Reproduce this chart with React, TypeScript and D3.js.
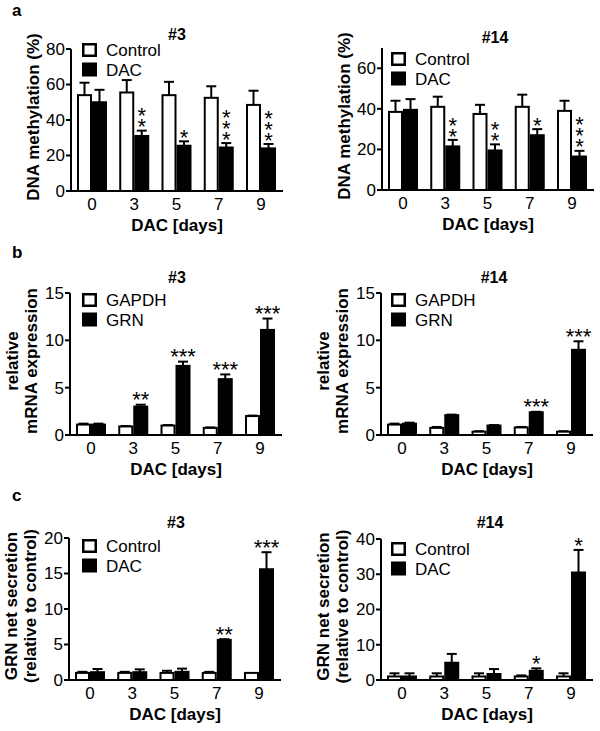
import React from 'react';
import * as d3 from 'd3';

const FONT = "'Liberation Sans', Arial, sans-serif";

const days = ['0', '3', '5', '7', '9'];

// a: DNA methylation
const methCtrl3 = [54, 55.5, 54, 52.5, 48.5];
const methCtrl3Err = [7, 7, 7.5, 6.5, 8];
const methDac3 = [50, 31, 25.5, 24.5, 24];
const methDac3Err = [7, 3, 2.5, 2.5, 2.5];
const methSig3 = ['', '**', '*', '***', '***'];

const methCtrl14 = [38.5, 41, 37.5, 41, 39];
const methCtrl14Err = [5.5, 5, 4.5, 6, 5];
const methDac14 = [39.5, 21.5, 19.5, 27, 16.5];
const methDac14Err = [5.3, 3.2, 3, 3, 2.8];
const methSig14 = ['', '**', '**', '*', '***'];

// b: mRNA expression
const gapdh3 = [1.1, 0.9, 1.0, 0.75, 2.0];
const gapdh3Err = [0.1, 0.05, 0.05, 0.05, 0.05];
const grn3 = [1.1, 3.0, 7.3, 5.9, 11.1];
const grn3Err = [0.1, 0.2, 0.45, 0.5, 1.2];
const mrnaSig3 = ['', '**', '***', '***', '***'];

const gapdh14 = [1.1, 0.75, 0.35, 0.8, 0.35];
const gapdh14Err = [0.1, 0.1, 0.05, 0.05, 0.05];
const grn14 = [1.2, 2.1, 1.0, 2.4, 9.0];
const grn14Err = [0.1, 0.05, 0.05, 0.05, 0.9];
const mrnaSig14 = ['', '', '', '***', '***'];

// c: GRN secretion
const secCtrl3 = [1, 1, 1, 1, 1];
const secCtrl3Err = [0.15, 0.15, 0.3, 0.15, 0];
const secDac3 = [1.1, 1.1, 1.15, 5.65, 15.6];
const secDac3Err = [0.45, 0.4, 0.45, 0.1, 2.4];
const secSig3 = ['', '', '', '**', '***'];

const secCtrl14 = [1, 1, 1, 1, 1];
const secCtrl14Err = [0.9, 0.9, 0.9, 0.3, 0.9];
const secDac14 = [1, 4.9, 1.7, 2.6, 30.5];
const secDac14Err = [0.9, 2.5, 1.4, 0.7, 6.4];
const secSig14 = ['', '', '', '*', '*'];

interface PanelProps {
  axisX: number;
  y0: number;
  yTop: number;
  yMax: number;
  ticks: number[];
  title: string;
  titleX: number;
  titleY: number;
  legend: [string, string];
  legendX: number;
  legendY: number;
  ylabel: string[];
  a: number[];
  aErr: number[];
  b: number[];
  bErr: number[];
  sig: string[];
  stacked: boolean;
}

const STAR = 22;

const Panel: React.FC<PanelProps> = (p) => {
  const y = d3.scaleLinear().domain([0, p.yMax]).range([p.y0, p.yTop]);
  const x = d3.scalePoint<string>().domain(days).range([p.axisX + 21, p.axisX + 190]);
  const barW = 15;
  const midY = (p.y0 + p.yTop) / 2 - 3;

  const bar = (v: number, e: number, left: number, fill: string, key: string) => {
    const top = y(v);
    const cx = left + barW / 2;
    return (
      <g key={key}>
        {e > 0 && (
          <g stroke="#000" strokeWidth={2}>
            <line x1={cx} x2={cx} y1={top} y2={y(v + e)} />
            <line x1={cx - 5} x2={cx + 5} y1={y(v + e)} y2={y(v + e)} />
          </g>
        )}
        <rect x={left + 1} y={top} width={barW - 2} height={Math.max(0, p.y0 - top)} fill={fill} stroke="#000" strokeWidth={2} />
      </g>
    );
  };

  return (
    <g fontFamily={FONT}>
      {days.map((d, i) => {
        const c = x(d)!;
        return (
          <g key={d}>
            {bar(p.a[i], p.aErr[i], c - barW, '#fff', 'a')}
            {bar(p.b[i], p.bErr[i], c, '#000', 'b')}
          </g>
        );
      })}
      {/* significance stars */}
      {days.map((d, i) => {
        const s = p.sig[i];
        if (!s) return null;
        const cx = x(d)! + barW / 2;
        const errTop = y(p.b[i] + p.bErr[i]);
        if (p.stacked) {
          const n = s.length;
          return (
            <text key={'s' + d} x={cx} textAnchor="middle" fontSize={STAR}>
              {s.split('').map((_, k) => (
                <tspan key={k} x={cx} y={errTop - 9 - (n - 1 - k) * 11 + STAR * 0.575}>*</tspan>
              ))}
            </text>
          );
        }
        const cy = errTop - 10;
        return (
          <text key={'s' + d} x={cx} y={cy + STAR * 0.575} textAnchor="middle" fontSize={STAR}>{s}</text>
        );
      })}
      {/* axes */}
      <g stroke="#000" strokeWidth={2}>
        <line x1={p.axisX} x2={p.axisX} y1={p.yTop} y2={p.y0 + 1} />
        <line x1={p.axisX - 1} x2={p.axisX + 212} y1={p.y0} y2={p.y0} />
        {p.ticks.map((t) => (
          <line key={t} x1={p.axisX - 5} x2={p.axisX} y1={y(t)} y2={y(t)} />
        ))}
      </g>
      {p.ticks.map((t) => (
        <text key={t} x={p.axisX - 6} y={y(t)} dy="0.35em" textAnchor="end" fontSize={17}>{t}</text>
      ))}
      {days.map((d) => (
        <text key={d} x={x(d)} y={p.y0 + 19} textAnchor="middle" fontSize={17}>{d}</text>
      ))}
      <text x={p.axisX + 106} y={p.y0 + 40} textAnchor="middle" fontSize={17} fontWeight="bold">DAC [days]</text>
      {p.ylabel.map((l, k) => {
        const off = p.ylabel.length === 1 ? -32 : k === 0 ? -52 : -33;
        return (
          <text key={k} transform={`translate(${p.axisX + off},${midY}) rotate(-90)`} textAnchor="middle" fontSize={17} fontWeight="bold">{l}</text>
        );
      })}
      <text x={p.titleX} y={p.titleY} textAnchor="middle" fontSize={16} fontWeight="bold">{p.title}</text>
      {/* legend */}
      {p.legend.map((l, k) => (
        <g key={l}>
          <rect x={p.legendX + 1.25} y={p.legendY + k * 19.5 + 1.25} width={12.5} height={11.5} fill={k === 0 ? '#fff' : '#000'} stroke="#000" strokeWidth={2.5} />
          <text x={p.legendX + 24} y={p.legendY + k * 19.5 + 13} fontSize={17}>{l}</text>
        </g>
      ))}
    </g>
  );
};

export default function App() {
  return (
    <svg width={600} height={731} style={{ position: 'absolute', left: 0, top: 0, background: '#fff' }}>
      <rect width={600} height={731} fill="#fff" />
      <g fontFamily={FONT} fontWeight="bold" fontSize={17}>
        <text x={12} y={16}>a</text>
        <text x={12} y={258}>b</text>
        <text x={12} y={501}>c</text>
      </g>
      <Panel axisX={71} y0={191} yTop={49} yMax={80} ticks={[0, 20, 40, 60, 80]} title="#3" titleX={177} titleY={40}
        legend={['Control', 'DAC']} legendX={82} legendY={43} ylabel={['DNA methylation (%)']}
        a={methCtrl3} aErr={methCtrl3Err} b={methDac3} bErr={methDac3Err} sig={methSig3} stacked />
      <Panel axisX={382} y0={190} yTop={48} yMax={70} ticks={[0, 20, 40, 60]} title="#14" titleX={495} titleY={43}
        legend={['Control', 'DAC']} legendX={391} legendY={52} ylabel={['DNA methylation (%)']}
        a={methCtrl14} aErr={methCtrl14Err} b={methDac14} bErr={methDac14Err} sig={methSig14} stacked />
      <Panel axisX={70} y0={435} yTop={293} yMax={15} ticks={[0, 5, 10, 15]} title="#3" titleX={177} titleY={283}
        legend={['GAPDH', 'GRN']} legendX={82} legendY={293} ylabel={['relative', 'mRNA expression']}
        a={gapdh3} aErr={gapdh3Err} b={grn3} bErr={grn3Err} sig={mrnaSig3} stacked={false} />
      <Panel axisX={381} y0={435} yTop={293} yMax={15} ticks={[0, 5, 10, 15]} title="#14" titleX={494} titleY={283}
        legend={['GAPDH', 'GRN']} legendX={391} legendY={293} ylabel={['relative', 'mRNA expression']}
        a={gapdh14} aErr={gapdh14Err} b={grn14} bErr={grn14Err} sig={mrnaSig14} stacked={false} />
      <Panel axisX={69} y0={680} yTop={538} yMax={20} ticks={[0, 5, 10, 15, 20]} title="#3" titleX={176} titleY={528}
        legend={['Control', 'DAC']} legendX={82} legendY={539} ylabel={['GRN net secretion', '(relative to control)']}
        a={secCtrl3} aErr={secCtrl3Err} b={secDac3} bErr={secDac3Err} sig={secSig3} stacked={false} />
      <Panel axisX={381} y0={680} yTop={539} yMax={40} ticks={[0, 10, 20, 30, 40]} title="#14" titleX={490} titleY={528}
        legend={['Control', 'DAC']} legendX={391} legendY={542} ylabel={['GRN net secretion', '(relative to control)']}
        a={secCtrl14} aErr={secCtrl14Err} b={secDac14} bErr={secDac14Err} sig={secSig14} stacked={false} />
    </svg>
  );
}
